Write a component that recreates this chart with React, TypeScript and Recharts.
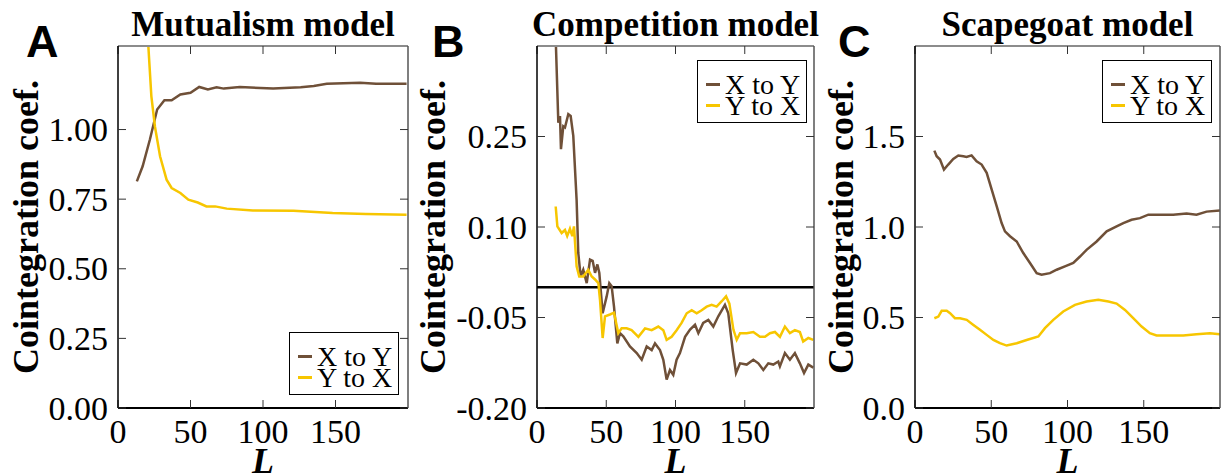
import React from 'react';
import { LineChart, Line, XAxis, YAxis, Legend, ReferenceLine } from 'recharts';

const SERIF = '"Liberation Serif", "Times New Roman", serif';
const SANS = '"Liberation Sans", Arial, sans-serif';
const BROWN = '#6f5038';
const YELLOW = '#f7c600';

// x axis ticks (L), shared by all three panels
const xTicks = [0, 50, 100, 150];

// A: Mutualism model  [L, coefficient]
const mutXtoY = [
    [13, 0.814], [17, 0.868], [22, 0.964], [27, 1.072], [32, 1.105], [37, 1.105], [43, 1.126],
    [50, 1.132], [56, 1.153], [62, 1.144], [68, 1.152], [73, 1.147], [84, 1.153], [107, 1.147],
    [126, 1.152], [135, 1.156], [144, 1.164], [167, 1.168], [178, 1.164], [199, 1.164],
];
const mutYtoX = [
    [13, 2.0], [17, 1.62], [20, 1.38], [23, 1.12], [25.5, 1.01], [29, 0.904], [33.5, 0.82],
    [37, 0.79], [43, 0.772], [48.5, 0.748], [55, 0.738], [61, 0.724], [67, 0.724], [75, 0.716],
    [93, 0.709], [121, 0.708], [148, 0.7], [171, 0.697], [199, 0.694],
];
const mutTicks = [0, 0.25, 0.5, 0.75, 1.0];

// B: Competition model
const compXtoY = [
    [13, 0.45], [15.4, 0.273], [16.6, 0.284], [17.3, 0.229], [19, 0.267], [20.2, 0.265], [22.6, 0.287],
    [24.3, 0.284], [26.2, 0.251], [28.6, 0.145], [29.8, 0.057], [31.5, 0.018], [33.4, 0.029],
    [35.9, 0.007], [38.3, 0.046], [40.2, 0.044], [41.9, 0.024], [43.6, 0.038], [45, 0.024],
    [47.4, -0.043], [50.3, -0.015], [52.2, 0.007], [53.9, 0.002], [55.6, -0.032], [58, -0.093],
    [59.9, -0.076], [62.3, -0.081], [67.1, -0.098], [72, -0.109], [75.6, -0.12], [79.2, -0.098],
    [82.8, -0.104], [85.2, -0.093], [88.8, -0.104], [91.2, -0.12], [93.6, -0.153], [96, -0.137],
    [98.4, -0.145], [100.8, -0.12], [103.2, -0.109], [106.9, -0.082], [110.5, -0.07], [114.1, -0.062],
    [116.5, -0.076], [120, -0.059], [123.7, -0.054], [127.3, -0.065], [130.9, -0.048], [135.7, -0.029],
    [138.1, -0.043], [141.3, -0.104], [143.7, -0.142], [146.6, -0.126], [151.4, -0.128], [156.2, -0.12],
    [159.8, -0.126], [163.4, -0.137], [167, -0.126], [170.6, -0.128], [174.2, -0.123], [175.4, -0.131],
    [179, -0.109], [182.6, -0.12], [186.2, -0.109], [189.8, -0.126], [192.8, -0.142], [195.9, -0.128],
    [199.5, -0.133],
];
const compYtoX = [
    [13.5, 0.134], [14.7, 0.101], [17.8, 0.09], [20.2, 0.095], [21.8, 0.085], [23.8, 0.097], [25.5, 0.085],
    [26.7, 0.101], [28.6, 0.035], [30.5, 0.018], [33.4, 0.018], [37, 0.029], [39.5, 0.018], [41.9, 0.013],
    [44.3, 0.007], [45.5, -0.021], [47.4, -0.084], [49.1, -0.048], [52.7, -0.045], [55.6, -0.042],
    [58.7, -0.076], [61.1, -0.068], [64.7, -0.068], [68.3, -0.071], [73.2, -0.082], [78, -0.068],
    [82.8, -0.071], [87.6, -0.065], [91.2, -0.071], [93.6, -0.087], [97.2, -0.082], [100.8, -0.071],
    [104.4, -0.059], [108.1, -0.043], [111.7, -0.038], [115.3, -0.043], [118.9, -0.038], [122.5, -0.032],
    [126.1, -0.029], [129.7, -0.032], [133.4, -0.023], [136.5, -0.015], [138.9, -0.027], [141.8, -0.07],
    [144.2, -0.087], [146.6, -0.076], [151.4, -0.076], [156.2, -0.074], [161, -0.082], [164.6, -0.082],
    [168.2, -0.076], [171.8, -0.074], [175.4, -0.082], [179, -0.065], [182.6, -0.076], [186.2, -0.071],
    [189.8, -0.074], [192.2, -0.09], [195.9, -0.084], [199.5, -0.087],
];
const compTicks = [-0.2, -0.05, 0.1, 0.25];

// C: Scapegoat model
const scapeXtoY = [
    [12.7, 1.422], [14.2, 1.391], [16.4, 1.373], [19, 1.317], [21.8, 1.345], [25.1, 1.376], [28.4, 1.395],
    [31.7, 1.391], [33.8, 1.387], [37.1, 1.396], [40.4, 1.363], [43.7, 1.345], [47, 1.299], [50.3, 1.206],
    [53.6, 1.114], [56.8, 1.022], [59, 0.976], [62.3, 0.949], [66.7, 0.92], [71, 0.856], [75.4, 0.801],
    [79.8, 0.745], [83, 0.736], [88.5, 0.745], [92.9, 0.764], [98.3, 0.782], [103.8, 0.801], [108.2, 0.837],
    [112.5, 0.874], [119.1, 0.92], [125.7, 0.976], [132.2, 1.003], [136.6, 1.022], [142, 1.04],
    [147.5, 1.049], [153, 1.068], [160.6, 1.068], [169.3, 1.068], [178.1, 1.074], [184.6, 1.068],
    [191.2, 1.085], [199.9, 1.091],
];
const scapeYtoX = [
    [12.7, 0.496], [15.3, 0.505], [17.5, 0.537], [20.8, 0.537], [23, 0.524], [26.2, 0.496], [29.5, 0.496],
    [33.9, 0.487], [38.3, 0.459], [42.6, 0.432], [47, 0.404], [51.4, 0.376], [55.7, 0.358], [60.1, 0.345],
    [66.7, 0.358], [73.2, 0.376], [80.9, 0.395], [85.2, 0.441], [90.7, 0.487], [97.2, 0.533],
    [104.9, 0.57], [112.5, 0.588], [120.2, 0.598], [126.8, 0.588], [132.2, 0.577], [137.7, 0.542],
    [143.1, 0.496], [148.6, 0.45], [154, 0.413], [158.4, 0.401], [167.1, 0.401], [175.9, 0.401],
    [184.6, 0.408], [193.4, 0.413], [199.9, 0.408],
];
const scapeTicks = [0, 0.5, 1.0, 1.5];

const pts = (arr: number[][]) => arr.map(([L, v]) => ({ L, v }));

const H = 475;
const PLOT_TOP = 46;
const PLOT_BOTTOM = 408;
const TICK_FONT = 34;

// tick labels drawn by hand so the serif font sticks
const XTick = ({ x, y, payload }: any) => (
    <text x={x} y={y} dy="0.71em" textAnchor="middle" fontFamily={SERIF} fontSize={TICK_FONT} fill="#000">
        {payload.value}
    </text>
);

const makeYTick = (digits: number) => ({ x, y, payload }: any) => (
    <text x={x} y={y} dy="0.34em" textAnchor="end" fontFamily={SERIF} fontSize={TICK_FONT} fill="#000">
        {Number(payload.value).toFixed(digits)}
    </text>
);

const renderLegend = ({ payload }: any) => (
    <div
        style={{
            width: 110,
            height: 63,
            boxSizing: 'border-box',
            border: '1px solid #000',
            background: '#fff',
            padding: '13px 0 0 8px',
            fontFamily: SERIF,
            fontSize: 28,
            lineHeight: '21px',
            color: '#000',
        }}
    >
        {(payload || []).map((p: any) => (
            <div key={p.value} style={{ display: 'flex', alignItems: 'center', height: 21, whiteSpace: 'nowrap' }}>
                <span style={{ display: 'inline-block', width: 14, height: 3, background: p.color, marginRight: 5 }} />
                <span>{p.value}</span>
            </div>
        ))}
    </div>
);

interface PanelProps {
    left: number;
    width: number;
    plotLeft: number;
    plotRight: number;
    title: string;
    letter: string;
    letterX: number;
    yLabelX: number;
    yDomain: [number, number];
    yTicks: number[];
    digits: number;
    xy: number[][];
    yx: number[][];
    legendLeft: number;
    legendTop: number;
    zeroLine?: boolean;
}

function Panel(p: PanelProps) {
    const cx = (p.plotLeft + p.plotRight) / 2;
    const cy = (PLOT_TOP + PLOT_BOTTOM) / 2;
    // axes get 1px of room each, so the margins are 1px smaller than the plot box
    return (
        <div style={{ position: 'absolute', left: p.left, top: 0 }}>
            <LineChart
                width={p.width}
                height={H}
                margin={{
                    top: PLOT_TOP - 1,
                    bottom: H - PLOT_BOTTOM - 1,
                    left: p.plotLeft - 1,
                    right: p.width - p.plotRight - 1,
                }}
            >
                <XAxis
                    xAxisId="b"
                    dataKey="L"
                    type="number"
                    domain={[0, 200]}
                    ticks={xTicks}
                    interval={0}
                    allowDataOverflow
                    height={1}
                    tickSize={-8}
                    tickMargin={19}
                    tick={XTick}
                    axisLine={{ stroke: '#000', strokeWidth: 2 }}
                    tickLine={{ stroke: '#333' }}
                />
                <XAxis
                    xAxisId="t"
                    orientation="top"
                    dataKey="L"
                    type="number"
                    domain={[0, 200]}
                    ticks={xTicks}
                    interval={0}
                    allowDataOverflow
                    height={1}
                    tickSize={-8}
                    tickFormatter={() => ''}
                    axisLine={{ stroke: '#8c8c8c', strokeWidth: 2 }}
                    tickLine={{ stroke: '#333' }}
                />
                <YAxis
                    yAxisId="l"
                    type="number"
                    domain={p.yDomain}
                    ticks={p.yTicks}
                    interval={0}
                    allowDataOverflow
                    width={1}
                    tickSize={-8}
                    tickMargin={18}
                    tick={makeYTick(p.digits)}
                    axisLine={{ stroke: '#000', strokeWidth: 1.5 }}
                    tickLine={{ stroke: '#333' }}
                />
                <YAxis
                    yAxisId="r"
                    orientation="right"
                    type="number"
                    domain={p.yDomain}
                    ticks={p.yTicks}
                    interval={0}
                    allowDataOverflow
                    width={1}
                    tickSize={-8}
                    tickFormatter={() => ''}
                    axisLine={{ stroke: '#555', strokeWidth: 1.5 }}
                    tickLine={{ stroke: '#333' }}
                />
                {p.zeroLine && (
                    <ReferenceLine xAxisId="b" yAxisId="l" y={0} stroke="#000" strokeWidth={2.5} />
                )}
                <Line
                    xAxisId="b"
                    yAxisId="l"
                    data={pts(p.xy)}
                    dataKey="v"
                    name="X to Y"
                    type="linear"
                    stroke={BROWN}
                    strokeWidth={2.5}
                    dot={false}
                    activeDot={false}
                    isAnimationActive={false}
                />
                <Line
                    xAxisId="b"
                    yAxisId="l"
                    data={pts(p.yx)}
                    dataKey="v"
                    name="Y to X"
                    type="linear"
                    stroke={YELLOW}
                    strokeWidth={2.5}
                    dot={false}
                    activeDot={false}
                    isAnimationActive={false}
                />
                <Legend
                    layout="vertical"
                    align="center"
                    verticalAlign="middle"
                    wrapperStyle={{ left: p.legendLeft, top: p.legendTop, width: 110, height: 63 }}
                    content={renderLegend}
                />
                <text x={cx} y={36} textAnchor="middle" fontFamily={SERIF} fontWeight="bold" fontSize={35} fill="#000">
                    {p.title}
                </text>
                <text x={p.letterX} y={57} fontFamily={SANS} fontWeight="bold" fontSize={45} fill="#000">
                    {p.letter}
                </text>
                <text
                    x={p.yLabelX}
                    y={cy}
                    transform={`rotate(-90 ${p.yLabelX} ${cy})`}
                    textAnchor="middle"
                    fontFamily={SERIF}
                    fontWeight="bold"
                    fontSize={36}
                    fill="#000"
                >
                    Cointegration coef.
                </text>
                <text x={cx} y={473} textAnchor="middle" fontFamily={SERIF} fontWeight="bold" fontStyle="italic" fontSize={36} fill="#000">
                    L
                </text>
            </LineChart>
        </div>
    );
}

export default function App() {
    return (
        <div style={{ position: 'absolute', left: 0, top: 0, width: 1225, height: 475, background: '#fff', overflow: 'hidden' }}>
            <Panel
                left={0}
                width={410}
                plotLeft={118}
                plotRight={408}
                title="Mutualism model"
                letter="A"
                letterX={26}
                yLabelX={38}
                yDomain={[0, 1.3]}
                yTicks={mutTicks}
                digits={2}
                xy={mutXtoY}
                yx={mutYtoX}
                legendLeft={289}
                legendTop={332}
            />
            <Panel
                left={410}
                width={410}
                plotLeft={127}
                plotRight={404}
                title="Competition model"
                letter="B"
                letterX={22}
                yLabelX={35}
                yDomain={[-0.2, 0.4]}
                yTicks={compTicks}
                digits={2}
                xy={compXtoY}
                yx={compYtoX}
                legendLeft={287}
                legendTop={60}
                zeroLine
            />
            <Panel
                left={820}
                width={405}
                plotLeft={95}
                plotRight={400}
                title="Scapegoat model"
                letter="C"
                letterX={18}
                yLabelX={33}
                yDomain={[0, 2]}
                yTicks={scapeTicks}
                digits={1}
                xy={scapeXtoY}
                yx={scapeYtoX}
                legendLeft={282}
                legendTop={60}
            />
        </div>
    );
}
